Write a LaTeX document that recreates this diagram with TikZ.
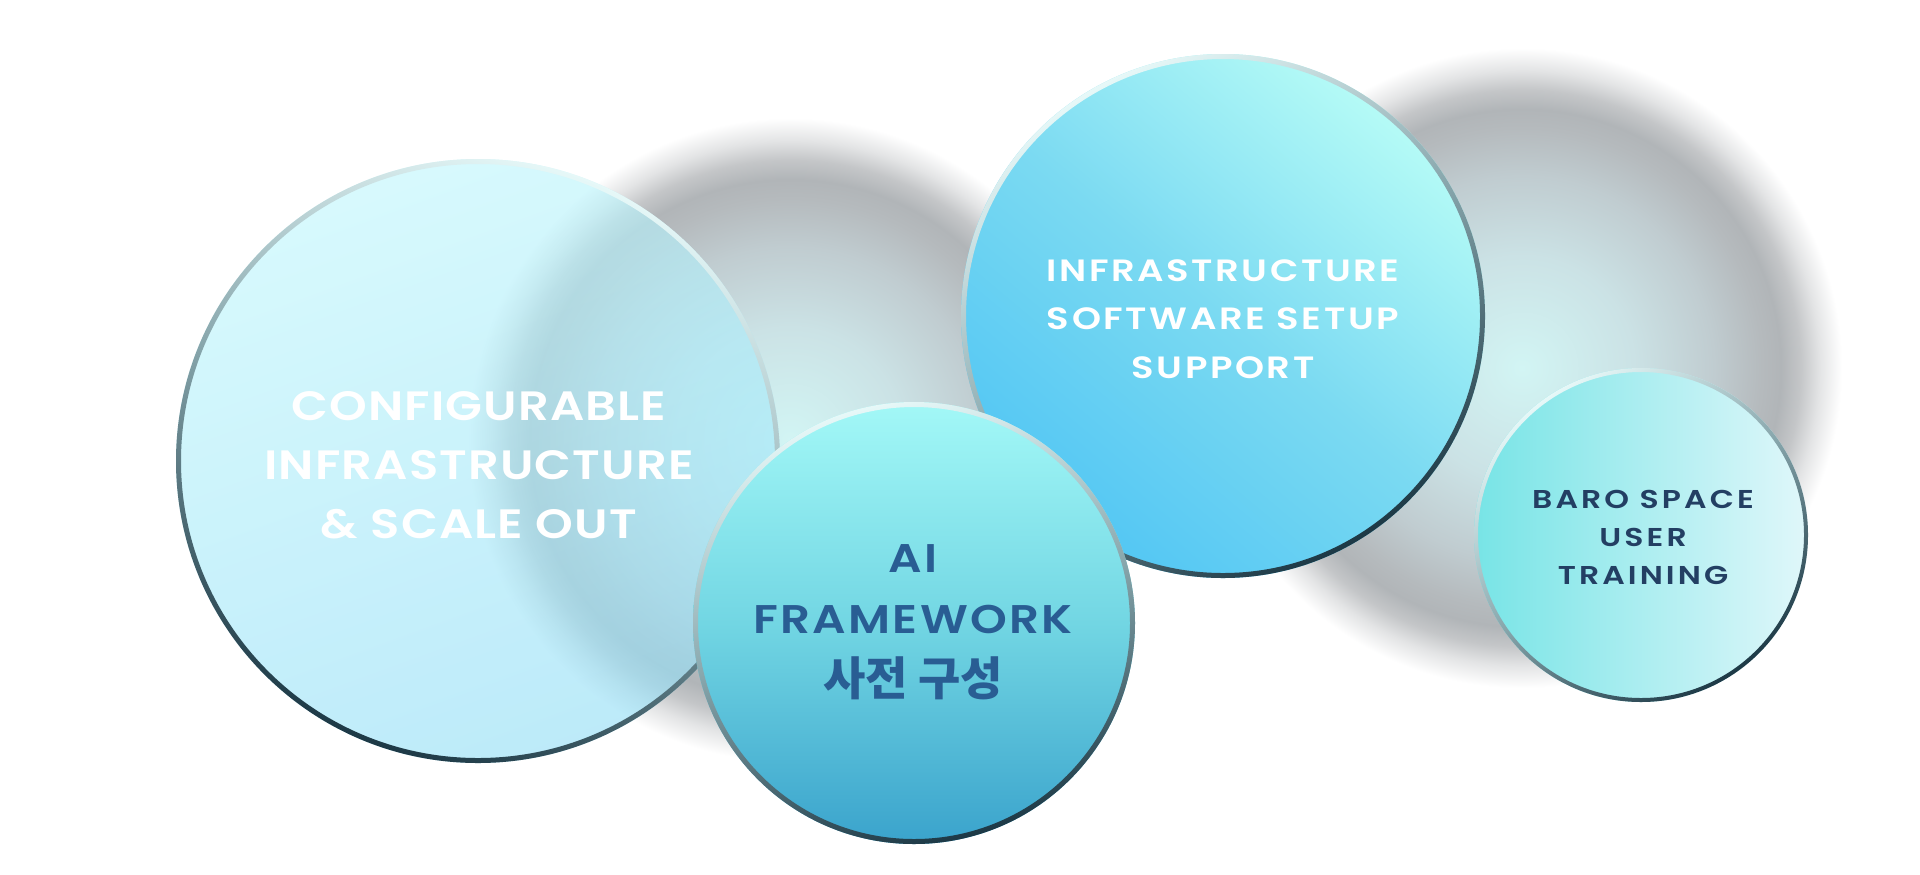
\documentclass[tikz,border=0pt]{standalone}
\usepackage{fontspec}
\newfontfamily\popBig{Poppins SemiBold}[FakeStretch=1.17, LetterSpace=2.8]
\newfontfamily\popInf{Poppins SemiBold}[FakeStretch=1.2, LetterSpace=8.5]
\newfontfamily\popAI{Poppins SemiBold}[FakeStretch=1.17, LetterSpace=5.5]
\newfontfamily\popBaro{Poppins SemiBold}[FakeStretch=1.22, LetterSpace=12]
\newfontfamily\krfont{Noto Sans CJK KR}

\definecolor{shA}{HTML}{D2F5F4}
\definecolor{shB}{HTML}{CBE2E5}
\definecolor{shC}{HTML}{C0CCD0}
\definecolor{shD}{HTML}{B5BABD}
\definecolor{shE}{HTML}{B1B5B8}
\definecolor{shF}{HTML}{C4C6C8}
\definecolor{shG}{HTML}{E3E4E5}
\pgfdeclareradialshading{shadowshade}{\pgfpointorigin}{%
  color(0bp)=(shA); color(8.75bp)=(shB); color(15bp)=(shC);
  color(18.75bp)=(shD); color(20.25bp)=(shE); color(21.75bp)=(shF);
  color(23.25bp)=(shG); color(25bp)=(white); color(50bp)=(white)}

\definecolor{bigTop}{HTML}{C1F7FC}
\definecolor{bigBot}{HTML}{96DFF7}
\definecolor{infTop}{HTML}{B5FBF6}
\definecolor{infMid}{HTML}{7BDAF2}
\definecolor{infBot}{HTML}{52C6F3}
\definecolor{aiTop}{HTML}{A3F8F7}
\definecolor{aiMid}{HTML}{72D6E3}
\definecolor{aiBot}{HTML}{3AA3CC}
\definecolor{baroL}{HTML}{77E4E6}
\definecolor{baroR}{HTML}{E0F7FA}
\definecolor{ringLight}{HTML}{E6F8F8}
\definecolor{ringMid}{HTML}{86A5AB}
\definecolor{ringDark}{HTML}{1D3946}
\definecolor{aiText}{HTML}{295D93}
\definecolor{baroText}{HTML}{233F63}

\tikzset{
  ring/.style={even odd rule, top color=ringLight, bottom color=ringDark, middle color=ringMid},
  bigtxt/.style={text=white, align=center, inner sep=0pt,
    font=\popBig\fontsize{20.5}{29.5}\selectfont},
  inftxt/.style={text=white, align=center, inner sep=0pt,
    font=\popInf\fontsize{15.4}{24.2}\selectfont},
  aitxt/.style={text=aiText, align=center, inner sep=0pt,
    font=\popAI\fontsize{20}{30.8}\selectfont},
  barotxt/.style={text=baroText, align=center, inner sep=0pt,
    font=\popBaro\fontsize{12.9}{19}\selectfont}
}

\begin{document}
\begin{tikzpicture}[x=0.5pt,y=-0.5pt]
\useasboundingbox (0,0) rectangle (1920,874);
\fill[white] (0,0) rectangle (1920,874);

\coordinate (sR) at (1522,368);
\coordinate (sL) at (790,440);
\coordinate (cBig) at (478,461);
\coordinate (cInf) at (1223,316);
\coordinate (cAI) at (914,623);
\coordinate (cBaro) at (1641,535);

% blurred shadows
\shade[shading=shadowshade] (sR) circle (320);
\shade[shading=shadowshade] (sL) circle (322);

% big glass circle
\shade[fill opacity=0.63, top color=bigTop, bottom color=bigBot, shading angle=20] (cBig) circle (302);
\shade[ring, shading angle=-22] (cBig) circle (302) (cBig) circle (297);
\node[bigtxt] (tBig) at (479,465) {CONFIGURABLE\\INFRASTRUCTURE\\\&~SCALE OUT};

% infrastructure software circle
\shade[top color=infTop, bottom color=infBot, middle color=infMid, shading angle=-40] (cInf) circle (262);
\shade[ring, shading angle=30] (cInf) circle (262) (cInf) circle (257);
\node[inftxt] (tInf) at (1223,319) {INFRASTRUCTURE\\SOFTWARE SETUP\\SUPPORT};

% AI framework circle
\shade[top color=aiTop, bottom color=aiBot, middle color=aiMid] (cAI) circle (221);
\shade[ring, shading angle=15] (cAI) circle (221) (cAI) circle (216);
\node[aitxt] (tAI) at (913,622) {AI\\FRAMEWORK\\{\krfont\bfseries\fontsize{23}{30.8}\selectfont 사전 구성}};

% baro space circle
\shade[left color=baroL, right color=baroR] (cBaro) circle (167);
\shade[ring, shading angle=35] (cBaro) circle (167) (cBaro) circle (163);
\node[barotxt] (tBaro) at (1643,537) {BARO SPACE\\USER\\TRAINING};
\end{tikzpicture}
\end{document}
